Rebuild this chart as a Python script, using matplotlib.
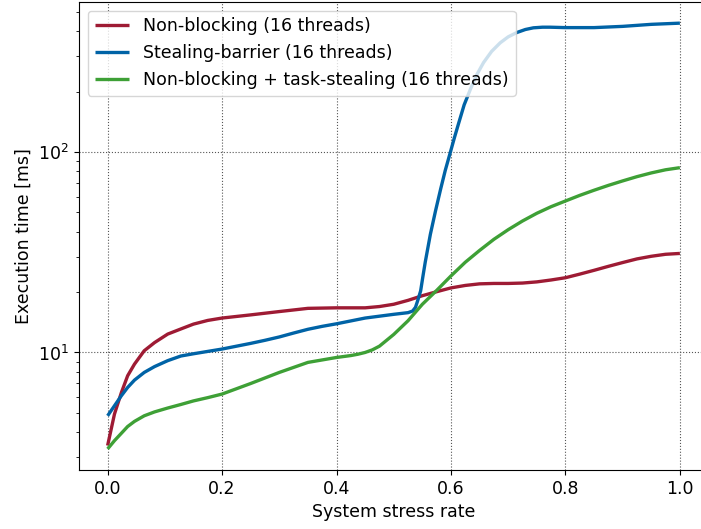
import matplotlib
matplotlib.use("Agg")
import matplotlib.pyplot as plt

# values (x = system stress rate, y = execution time in ms)
x_nb = [0, 0.012, 0.024, 0.035, 0.047, 0.064, 0.082, 0.105, 0.128, 0.15,
        0.175, 0.2, 0.25, 0.3, 0.35, 0.4, 0.45, 0.475, 0.5, 0.525,
        0.55, 0.575, 0.6, 0.625, 0.65, 0.675, 0.7, 0.725, 0.75, 0.775,
        0.8, 0.825, 0.85, 0.875, 0.9, 0.925, 0.95, 0.975, 1.0]
y_nb = [3.43, 4.93, 6.3, 7.65, 8.75, 10.2, 11.2, 12.35, 13.1, 13.85,
        14.45, 14.85, 15.4, 16.0, 16.6, 16.7, 16.7, 16.95, 17.4, 18.2,
        19.2, 20.1, 21.0, 21.6, 22.0, 22.1, 22.1, 22.2, 22.5, 23.0,
        23.6, 24.6, 25.7, 26.9, 28.1, 29.3, 30.2, 30.9, 31.2]

x_sb = [0, 0.012, 0.024, 0.035, 0.047, 0.064, 0.082, 0.105, 0.128, 0.15,
        0.2, 0.25, 0.275, 0.3, 0.325, 0.35, 0.375, 0.4, 0.45, 0.5,
        0.525, 0.533, 0.538, 0.542, 0.547, 0.551, 0.555, 0.564, 0.573, 0.582,
        0.59, 0.599, 0.606, 0.613, 0.623, 0.634, 0.645, 0.657, 0.671, 0.686,
        0.7, 0.715, 0.73, 0.744, 0.76, 0.773, 0.8, 0.85, 0.9, 0.95, 1.0]
y_sb = [4.83, 5.42, 6.08, 6.69, 7.28, 7.95, 8.5, 9.1, 9.6, 9.85,
        10.4, 11.1, 11.5, 11.95, 12.5, 13.05, 13.5, 13.9, 14.85, 15.5,
        15.8, 16.1, 16.8, 18.2, 20.3, 24.0, 28.2, 38.9, 50.9, 65.5,
        81.0, 100, 118, 138, 172, 206, 243, 280, 318, 351,
        376, 395, 409, 417, 420, 420, 418, 418, 424, 434, 440]

x_nbts = [0, 0.012, 0.024, 0.035, 0.047, 0.064, 0.082, 0.105, 0.128, 0.15,
          0.175, 0.2, 0.25, 0.3, 0.35, 0.4, 0.425, 0.4375, 0.45, 0.4625,
          0.475, 0.5, 0.525, 0.55, 0.575, 0.6, 0.625, 0.65, 0.675, 0.7,
          0.725, 0.75, 0.775, 0.8, 0.825, 0.85, 0.875, 0.9, 0.925, 0.95,
          0.975, 1.0]
y_nbts = [3.3, 3.63, 3.95, 4.27, 4.53, 4.83, 5.05, 5.28, 5.5, 5.73,
          5.95, 6.2, 7.0, 7.95, 8.92, 9.44, 9.65, 9.8, 10.0, 10.3,
          10.75, 12.3, 14.4, 17.4, 20.4, 24.1, 28.2, 32.3, 36.7, 41.0,
          45.3, 49.5, 53.4, 57.0, 60.8, 64.5, 68.2, 71.8, 75.4, 78.7,
          81.6, 83.6]

labels = ["Non-blocking (16 threads)",
          "Stealing-barrier (16 threads)",
          "Non-blocking + task-stealing (16 threads)"]

plt.rcParams['font.size'] = 12.5

fig = plt.figure(figsize=(7.01, 5.29), dpi=100)
# axes run a little past the right edge, like the cropped reference
ax = fig.add_axes([0.1127, 0.1115, 0.898, 0.885])

style = dict(lw=2.4, solid_joinstyle='round', solid_capstyle='butt')
ax.plot(x_nb, y_nb, color='#9e1b34', label=labels[0], **style)
ax.plot(x_sb, y_sb, color='#0063a6', label=labels[1], **style)
ax.plot(x_nbts, y_nbts, color='#3ea036', label=labels[2], **style)

ax.set_yscale('log')
ax.set_xlim(-0.05, 1.05)
ax.set_ylim(2.59, 562)
ax.set_xticks([0.0, 0.2, 0.4, 0.6, 0.8, 1.0])
ax.grid(True, which='major', linestyle=':', color='#555555', linewidth=0.8)

ax.set_xlabel('System stress rate')
ax.set_ylabel('Execution time [ms]')
ax.legend(loc='upper left')

fig.savefig('out.png', dpi=100)
